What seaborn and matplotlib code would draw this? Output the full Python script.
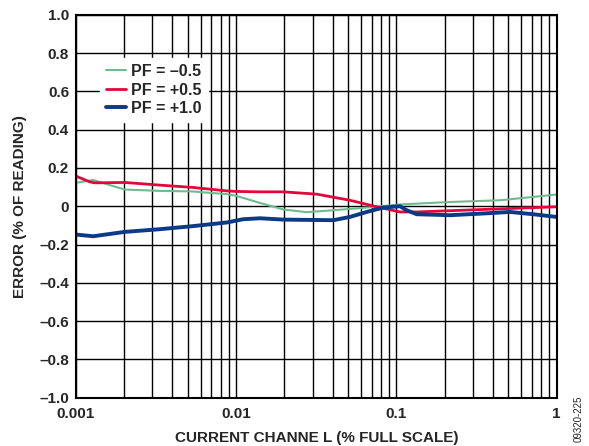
import matplotlib
matplotlib.use("Agg")
import matplotlib.pyplot as plt
from matplotlib.ticker import FixedLocator, LogLocator, NullFormatter
import seaborn as sns
import pandas as pd

# Current channel (% full scale) and error (% of reading) for each power factor
pf_neg05_x = [0.001, 0.00128, 0.00163, 0.00202, 0.00334, 0.00537, 0.00873, 0.01,
              0.0141, 0.0197, 0.0275, 0.0404, 0.0653, 0.1052, 0.216, 0.443, 1.0]
pf_neg05_y = [0.122, 0.137, 0.11, 0.087, 0.08, 0.077, 0.063, 0.054,
              0.017, -0.017, -0.031, -0.021, -0.007, 0.009, 0.022, 0.031, 0.061]

pf_pos05_x = [0.001, 0.00122, 0.00131, 0.00202, 0.00334, 0.00537, 0.00873, 0.01,
              0.0141, 0.0197, 0.0318, 0.0513, 0.0754, 0.1052, 0.134, 0.349, 1.0]
pf_pos05_y = [0.157, 0.127, 0.122, 0.124, 0.11, 0.098, 0.08, 0.077,
              0.075, 0.075, 0.063, 0.031, -0.003, -0.03, -0.03, -0.017, -0.003]

pf_pos10_x = [0.001, 0.00128, 0.00202, 0.00334, 0.00537, 0.00873, 0.01107, 0.0141,
              0.0197, 0.0404, 0.0513, 0.0653, 0.0828, 0.1052, 0.1159, 0.134,
              0.216, 0.349, 0.512, 0.716, 1.0]
pf_pos10_y = [-0.148, -0.157, -0.134, -0.12, -0.104, -0.085, -0.068, -0.063,
              -0.07, -0.073, -0.056, -0.03, -0.007, 0.0, -0.021, -0.042,
              -0.047, -0.038, -0.03, -0.042, -0.056]

series_labels = ["PF = \u20130.5", "PF = +0.5", "PF = +1.0"]
series_colors = ["#6dbb8f", "#e2063b", "#0b3a86"]
series_widths = [1.5, 2.0, 2.8]

y_ticks = [-1.0, -0.8, -0.6, -0.4, -0.2, 0, 0.2, 0.4, 0.6, 0.8, 1.0]
y_tick_labels = ["\u20131.0", "\u20130.8", "\u20130.6", "\u20130.4", "\u20130.2",
                 "0", "0.2", "0.4", "0.6", "0.8", "1.0"]
x_ticks = [0.001, 0.01, 0.1, 1]
x_tick_labels = ["0.001", "0.01", "0.1", "1"]

frames = []
for lab, xs, ys in zip(series_labels,
                       [pf_neg05_x, pf_pos05_x, pf_pos10_x],
                       [pf_neg05_y, pf_pos05_y, pf_pos10_y]):
    frames.append(pd.DataFrame({"current": xs, "error": ys, "series": lab}))
data = pd.concat(frames, ignore_index=True)

sns.set_style("white")
plt.rcParams["font.family"] = ["Liberation Sans", "DejaVu Sans"]

fig = plt.figure(figsize=(5.89, 4.46), dpi=100)
ax = fig.add_axes([0.129, 0.1083, 0.816, 0.8587])

for lab, col, lw in zip(series_labels, series_colors, series_widths):
    sns.lineplot(data=data[data["series"] == lab], x="current", y="error",
                 color=col, linewidth=lw, label=lab, ax=ax, sort=False,
                 estimator=None)

ax.set_xscale("log")
ax.set_xlim(0.001, 1)
ax.set_ylim(-1.0, 1.0)

ax.xaxis.set_major_locator(FixedLocator(x_ticks))
ax.set_xticklabels(x_tick_labels)
ax.xaxis.set_minor_locator(LogLocator(base=10, subs=range(2, 10), numticks=20))
ax.xaxis.set_minor_formatter(NullFormatter())
ax.set_yticks(y_ticks)
ax.set_yticklabels(y_tick_labels)

ax.grid(True, which="major", axis="both", color="black", linewidth=1.0)
ax.grid(True, which="minor", axis="x", color="black", linewidth=1.0)
ax.set_axisbelow(True)

ax.tick_params(axis="y", which="both", length=0, pad=5)
ax.tick_params(axis="x", which="both", length=0, pad=7)
for t in ax.get_xticklabels() + ax.get_yticklabels():
    t.set_fontweight("bold")
    t.set_fontsize(11)

for s in ax.spines.values():
    s.set_color("black")
    s.set_linewidth(1.5)

ax.set_xlabel("CURRENT CHANNE L (% FULL SCALE)", fontsize=11, fontweight="bold",
              labelpad=7)
ax.set_ylabel("ERROR (% OF READING)", fontsize=11, fontweight="bold", labelpad=9)

leg = ax.legend(loc="upper left", bbox_to_anchor=(0.05, 0.888), frameon=True,
                fancybox=False, framealpha=1, facecolor="white", edgecolor="white",
                prop={"weight": "bold", "size": 11.5}, handlelength=1.2,
                handletextpad=0.35, labelspacing=0.22, borderpad=0.4,
                borderaxespad=0)

fig.text(0.982, 0.01, "09320-225", rotation=90, fontsize=7, ha="center",
         va="bottom")

fig.savefig("out.png", dpi=100)
